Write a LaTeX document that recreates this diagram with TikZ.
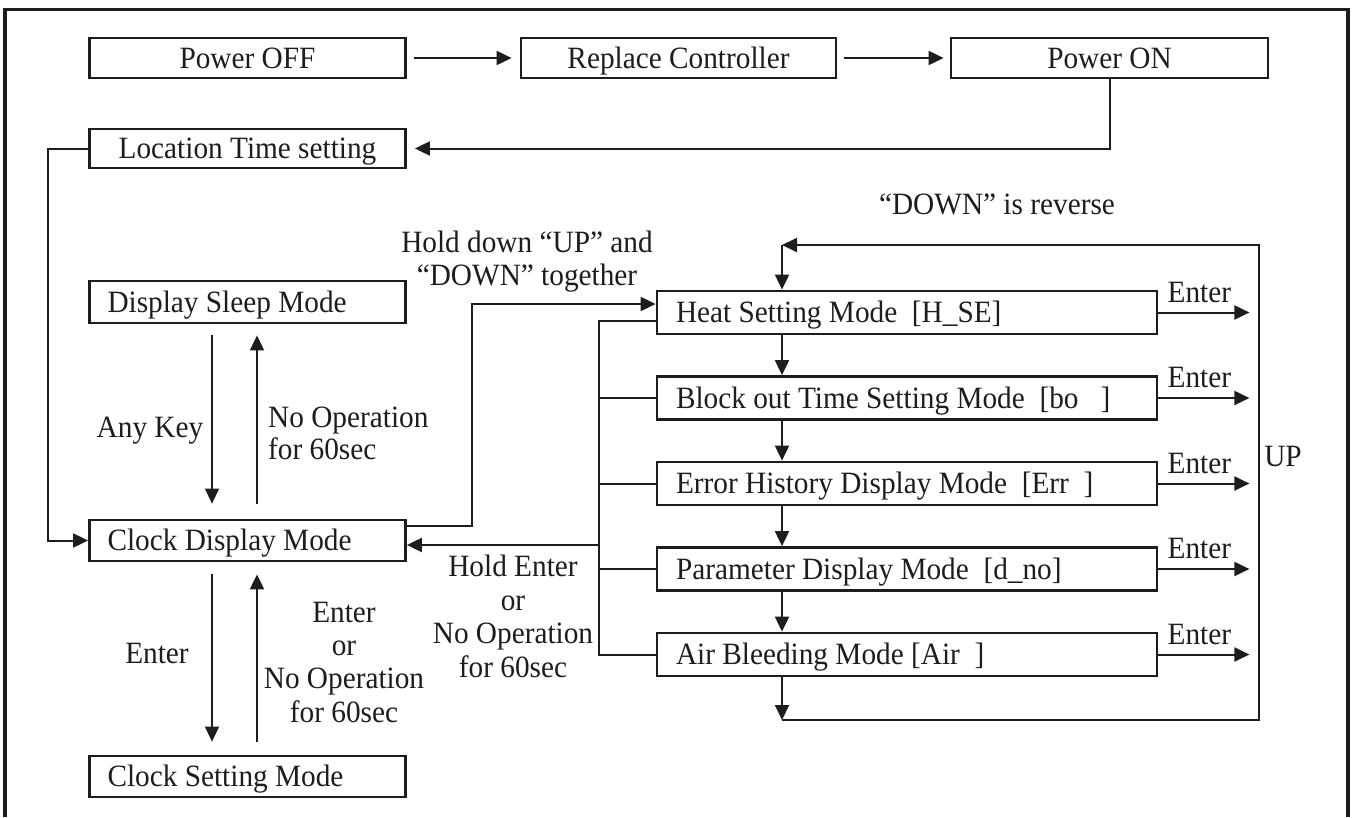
\documentclass[tikz,border=0pt]{standalone}
\usepackage{fontspec}
\setmainfont{Liberation Serif}[FakeStretch=0.945]
\usetikzlibrary{arrows.meta,calc}
\definecolor{ink}{RGB}{30,28,28}
\begin{document}
\begin{tikzpicture}[x=1pt,y=-1pt,
  every node/.style={font=\fontsize{31pt}{33.5pt}\selectfont, text=ink},
  cbox/.style={draw=ink, line width=2.8pt, inner sep=0pt, text height=26.5pt, text depth=6pt},
  lbox/.style={draw=ink, line width=2.8pt, inner ysep=0pt, inner xsep=18pt, text height=26.5pt, text depth=6pt, align=flush left},
  conn/.style={draw=ink, line width=2pt},
  arr/.style={conn, -{Triangle[length=15pt,width=14pt]}},
  thinarr/.style={draw=ink, line width=1.3pt, -{Triangle[length=15pt,width=14pt]}},
  lab/.style={anchor=base, inner sep=0pt}]
\useasboundingbox (0,0) rectangle (1354,817);
% outer frame
\draw[ink, line width=3.5pt] (5,817) -- (5,9.5) -- (1348,9.5) -- (1348,817);

% top row
\node[cbox, minimum width=316pt, minimum height=40pt] (poff) at (247.5,58) {Power OFF};
\node[cbox, minimum width=315pt, minimum height=40pt] (repl) at (678.5,58) {Replace Controller};
\node[cbox, minimum width=317pt, minimum height=40pt] (pon) at (1109.5,58) {Power ON};
\node[cbox, minimum width=316pt, minimum height=39pt] (loc) at (247.5,148.5) {Location Time setting};

% left column
\node[lbox, text width=280pt, minimum height=42pt] (sleep) at (247.5,302) {Display Sleep Mode};
\node[lbox, text width=280pt, minimum height=41pt] (clockd) at (247.5,540.5) {Clock Display Mode};
\node[lbox, text width=280pt, minimum height=41pt] (clocks) at (247.5,776.5) {Clock Setting Mode};

% right column
\node[lbox, inner xsep=19pt, text width=462pt, minimum height=43pt] (heat) at (907,312.5) {Heat Setting Mode\ \ [H\_SE]};
\node[lbox, inner xsep=19pt, text width=462pt, minimum height=43pt] (block) at (907,398) {Block out Time Setting Mode\ \ [bo\ \ \ ]};
\node[lbox, inner xsep=19pt, text width=462pt, minimum height=43pt] (err) at (907,483.5) {Error History Display Mode\ \ [Err\ \ ]};
\node[lbox, inner xsep=19pt, text width=462pt, minimum height=43pt] (param) at (907,569) {Parameter Display Mode\ \ [d\_no]};
\node[lbox, inner xsep=19pt, text width=462pt, minimum height=43pt] (air) at (907,654.5) {Air Bleeding Mode [Air\ \ ]};

% top row connectors
\draw[arr, shorten <=7pt, shorten >=8pt] (poff) -- (repl);
\draw[arr, shorten <=7pt, shorten >=6pt] (repl) -- (pon);
\draw[arr, shorten >=8pt] (pon.south) |- (loc.east);
\draw[arr] (loc.west) -- ++(-40,0) |- (clockd.west);

% sleep / clock display / clock setting
\coordinate (xa) at (212,0);
\coordinate (xb) at (257,0);
\draw[thinarr, shorten <=11pt, shorten >=15pt] (sleep.south -| xa) -- (clockd.north -| xa);
\draw[arr, shorten <=15pt, shorten >=11pt] (clockd.north -| xb) -- (sleep.south -| xb);
\draw[thinarr, shorten <=12pt, shorten >=13pt] (clockd.south -| xa) -- (clocks.north -| xa);
\draw[arr, shorten <=13pt, shorten >=12pt] (clocks.north -| xb) -- (clockd.south -| xb);

% clock display -> heat setting
\coordinate (cdo) at ([yshift=14.5pt]clockd.east);
\coordinate (hin) at ([yshift=8.5pt]heat.west);
\draw[arr] (cdo) -- ++(65,0) |- (hin);

% return bus
\coordinate (bus) at (599,0);
\coordinate (hout) at ([yshift=-8.5pt]heat.west);
\coordinate (cdin) at ([yshift=-4.5pt]clockd.east);
\draw[conn] (hout) -- (hout -| bus) -- (air.west -| bus) -- (air.west);
\draw[conn] (block.west -| bus) -- (block.west);
\draw[conn] (err.west -| bus) -- (err.west);
\draw[conn] (param.west -| bus) -- (param.west);
\draw[arr] (cdin -| bus) -- (cdin);

% mode chain
\coordinate (vx) at (782,0);
\draw[arr] (heat.south -| vx) -- (block.north -| vx);
\draw[arr] (block.south -| vx) -- (err.north -| vx);
\draw[arr] (err.south -| vx) -- (param.north -| vx);
\draw[arr] (param.south -| vx) -- (air.north -| vx);
\coordinate (lb) at (782,720);
\coordinate (lr) at (1259,720);
\coordinate (tr) at (1259,245);
\coordinate (tl) at (782,245);
\draw[arr] (air.south -| vx) -- (lb);
\draw[arr] (lb) -- (lr) -- (tr) -- (tl);
\draw[arr] (tl) -- (heat.north -| vx);

% Enter arrows
\foreach \n in {heat,block,err,param,air}
  \draw[arr] (\n.east) -- ++(91,0) node[lab, pos=0.45, yshift=10.5pt] (e\n) {Enter};

% labels
\node[lab] (uplab) at (1283,466) {UP};
\node[lab] (revlab) at (997,214) {“DOWN” is reverse};
\node[lab] (hd1) at (527,252) {Hold down “UP” and};
\node[lab] (hd2) at (527,285) {“DOWN” together};
\node[lab] (anyk) at (150,437) {Any Key};
\node[lab, anchor=base west] (sno1) at (268,427) {No Operation};
\node[lab, anchor=base west] (sno2) at (268,459) {for 60sec};
\node[lab] (cent) at (157,663) {Enter};
\node[lab] (cr1) at (344,622) {Enter};
\node[lab] (cr2) at (344,655) {or};
\node[lab] (cr3) at (344,688) {No Operation};
\node[lab] (cr4) at (344,722) {for 60sec};
\node[lab] (he1) at (513,576) {Hold Enter};
\node[lab] (he2) at (513,610) {or};
\node[lab] (he3) at (513,643) {No Operation};
\node[lab] (he4) at (513,677) {for 60sec};
\end{tikzpicture}
\end{document}
